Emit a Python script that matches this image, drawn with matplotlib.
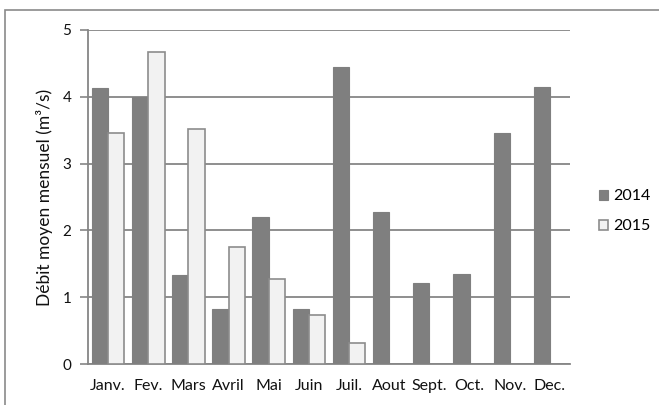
import numpy as np
import matplotlib
matplotlib.use('Agg')
import matplotlib.pyplot as plt
from matplotlib.patches import Rectangle

plt.rcParams['font.family'] = ['Lato', 'DejaVu Sans']

mois = ['Janv.', 'Fev.', 'Mars', 'Avril', 'Mai', 'Juin', 'Juil.', 'Aout', 'Sept.', 'Oct.', 'Nov.', 'Dec.']
debit_2014 = [4.13, 4.0, 1.33, 0.82, 2.2, 0.82, 4.44, 2.28, 1.22, 1.34, 3.46, 4.15]
debit_2015 = [3.46, 4.67, 3.52, 1.75, 1.27, 0.73, 0.32, np.nan, np.nan, np.nan, np.nan, np.nan]

fig = plt.figure(figsize=(6.59, 4.05), dpi=100)
ax = fig.add_axes([0.1335, 0.1012, 0.7315, 0.8248])

x = np.arange(len(mois))
w = 0.405
ax.bar(x - w / 2, debit_2014, width=w, color='#7f7f7f', edgecolor='#7f7f7f', linewidth=0.8, label='2014', zorder=3)
ax.bar(x + w / 2, debit_2015, width=w, color='#f2f2f2', edgecolor='#8c8c8c', linewidth=1.2, label='2015', zorder=3)

ax.set_xlim(-0.5, len(mois) - 0.5)
ax.set_ylim(0, 5)
ax.set_yticks([0, 1, 2, 3, 4, 5])
ax.set_xticks(x)
ax.set_xticklabels(mois, fontsize=11.5, color='#111111')
ax.tick_params(axis='x', length=0, pad=11)
ax.tick_params(axis='y', length=6, width=1.2, color='#868686', labelsize=11, labelcolor='#111111', pad=6)
ax.yaxis.grid(True, color='#868686', linewidth=1.3)
ax.set_axisbelow(True)
for s in ['top', 'right']:
    ax.spines[s].set_visible(False)
for s in ['left', 'bottom']:
    ax.spines[s].set_color('#868686')
    ax.spines[s].set_linewidth(1.3)
ax.set_ylabel('Débit moyen mensuel (m³/s)', fontsize=12.5, color='#111111', labelpad=7)

ax.legend(loc='center left', bbox_to_anchor=(1.03, 0.457), frameon=False, fontsize=11.5,
          handlelength=0.6, handleheight=0.6, handletextpad=0.3, labelspacing=1.0)

# cadre du graphique (coupé à droite et en bas)
fig.patches.append(Rectangle((5 / 659, -0.1), 1.2, 1.1 - 10 / 405, transform=fig.transFigure,
                             fill=False, edgecolor='#8a8a8a', linewidth=1.2))

fig.savefig('out.png', dpi=100)
